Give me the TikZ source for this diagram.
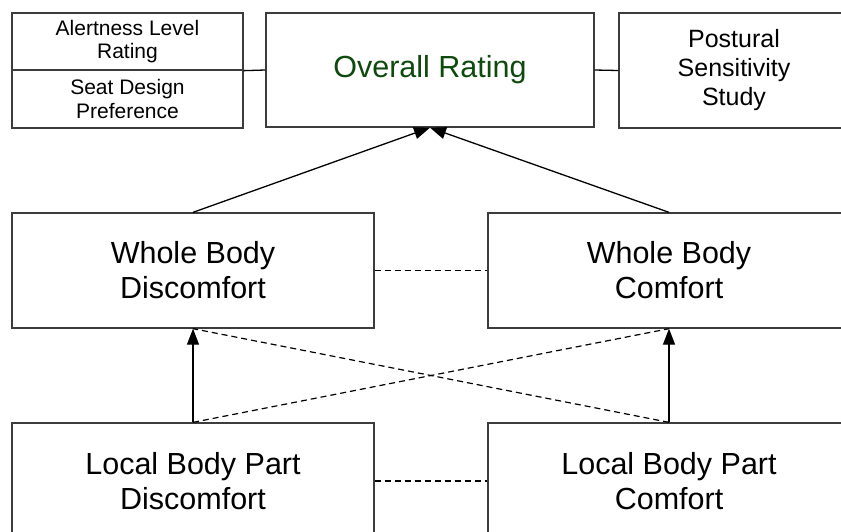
\documentclass[tikz,border=0pt]{standalone}
\usepackage{fontspec}
\setmainfont{Liberation Sans}
\usetikzlibrary{arrows.meta}
\definecolor{ratinggreen}{RGB}{14,74,14}
\definecolor{boxline}{RGB}{60,60,60}
\begin{document}
\begin{tikzpicture}[x=1pt,y=-1pt,
  box/.style={draw=boxline, line width=1.3pt, fill=white, rectangle, inner sep=0pt, align=center},
  bigtext/.style={font=\fontsize{30.5}{35}\selectfont},
  smalltext/.style={font=\fontsize{21}{23.5}\selectfont},
  midtext/.style={font=\fontsize{25}{29}\selectfont},
  link/.style={draw=black, line width=1.3pt},
  dashlink/.style={draw=black, line width=1.2pt, dash pattern=on 6pt off 4pt},
  uparrow/.style={draw=black, line width=1.3pt, -{Triangle[length=16pt,width=12pt]}}]
\useasboundingbox (0,0) rectangle (841,531);
\clip (0,0) rectangle (841,531);

% top row
\node[box, smalltext, minimum width=231pt, minimum height=57pt] (alert) at (127.5,41.5) {Alertness Level\\Rating};
\node[box, smalltext, minimum width=231pt, minimum height=58pt] (seat) at (127.5,99) {Seat Design\\Preference};
\node[box, bigtext, text=ratinggreen, minimum width=328pt, minimum height=114pt] (overall) at (430,70) {Overall Rating};
\node[box, midtext, minimum width=230pt, minimum height=115pt] (postural) at (734,70.5) {Postural\\Sensitivity\\Study};

% whole body row
\node[box, bigtext, minimum width=362pt, minimum height=115pt] (wbd) at (193,270.5) {Whole Body\\Discomfort};
\node[box, bigtext, minimum width=362pt, minimum height=115pt] (wbc) at (669,270.5) {Whole Body\\Comfort};

% local body part row
\node[box, bigtext, minimum width=362pt, minimum height=116pt] (lbd) at (193,481) {Local Body Part\\Discomfort};
\node[box, bigtext, minimum width=362pt, minimum height=116pt] (lbc) at (669,481) {Local Body Part\\Comfort};

% connectors
\draw[link] (alert.south east) -- (overall.west);
\draw[link] (overall.east) -- (postural.west);
\draw[uparrow] (wbd.north) -- (overall.south);
\draw[uparrow] (wbc.north) -- (overall.south);
\draw[dashlink] (wbd.east) -- (wbc.west);
\draw[uparrow] (lbd.north) -- (wbd.south);
\draw[uparrow] (lbc.north) -- (wbc.south);
\draw[dashlink] (lbd.north) -- (wbc.south);
\draw[dashlink] (lbc.north) -- (wbd.south);
\draw[dashlink] (lbd.east) -- (lbc.west);
\end{tikzpicture}
\end{document}
